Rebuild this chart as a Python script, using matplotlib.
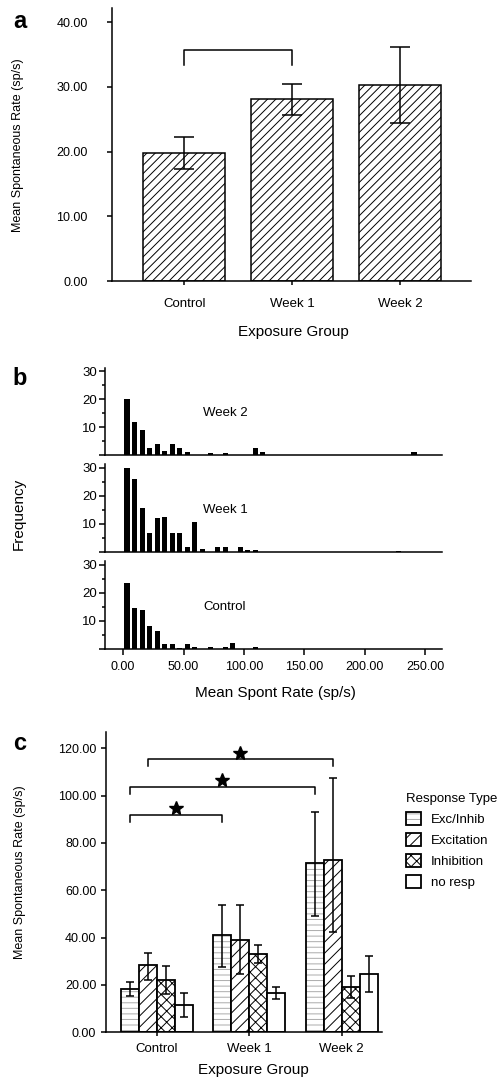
import matplotlib
matplotlib.use('Agg')
import matplotlib.pyplot as plt
import matplotlib.patches as mpatches
from matplotlib.ticker import FormatStrFormatter, MultipleLocator
import numpy as np

plt.rcParams['font.family'] = ['Liberation Sans', 'DejaVu Sans']
plt.rcParams['hatch.linewidth'] = 0.7

# ---- painel a: media por grupo ----
grupos = ['Control', 'Week 1', 'Week 2']
media_a = [19.8, 28.1, 30.3]
erro_a = [2.5, 2.4, 5.9]
chaves_a = [(0, 1, 35.7)]  # (grupo inicial, grupo final, altura)

# ---- painel b: histogramas (bins de 6.25 sp/s) ----
largura_bin = 6.25
bins_week2 = [0, 1, 2, 3, 4, 5, 6, 7, 8, 11, 13, 17, 18, 38]
freq_week2 = [20, 12, 9, 2.5, 4, 1.5, 4, 2.5, 1, 0.8, 0.8, 2.5, 1, 1]
bins_week1 = [0, 1, 2, 3, 4, 5, 6, 7, 8, 9, 10, 12, 13, 15, 16, 17, 36]
freq_week1 = [30, 26, 15.5, 6.5, 12, 12.5, 6.5, 6.5, 1.5, 10.5, 0.8, 1.5, 1.5, 1.5, 0.4, 0.4, 0.3]
bins_control = [0, 1, 2, 3, 4, 5, 6, 7, 8, 9, 11, 13, 14, 17]
freq_control = [23.5, 14.7, 13.7, 8.2, 6.4, 1.6, 1.6, 0.3, 1.6, 0.6, 0.6, 0.6, 2, 0.6]

# ---- painel c: por tipo de resposta ----
tipos = ['Exc/Inhib', 'Excitation', 'Inhibition', 'no resp']
exc_inhib = [18.2, 41.0, 71.4]
exc_inhib_baixo = [3.0, 13.3, 22.3]
exc_inhib_alto = [2.9, 12.8, 21.8]
excitation = [28.3, 39.0, 72.7]
excitation_baixo = [6.2, 14.5, 30.5]
excitation_alto = [5.4, 14.7, 34.9]
inhibition = [22.1, 33.1, 19.2]
inhibition_baixo = [6.0, 3.9, 4.8]
inhibition_alto = [5.9, 3.8, 4.7]
no_resp = [11.5, 16.5, 24.5]
no_resp_baixo = [5.2, 2.6, 7.6]
no_resp_alto = [5.1, 2.5, 7.8]
# (serie, grupo) -> (serie, grupo), altura
chaves_c = [((0, 0), (0, 1), 91.9), ((0, 0), (0, 2), 103.6), ((1, 0), (1, 2), 115.3)]

W, H = 499, 1079
fig = plt.figure(figsize=(W / 100, H / 100), dpi=100)


def caixa(x0, y0, x1, y1):
    return [x0 / W, 1 - y1 / H, (x1 - x0) / W, (y1 - y0) / H]


def limpar(ax):
    ax.spines['top'].set_visible(False)
    ax.spines['right'].set_visible(False)
    ax.spines['left'].set_linewidth(1.1)
    ax.spines['bottom'].set_linewidth(1.1)


# ================= a =================
ax_a = fig.add_axes(caixa(112, 8, 471, 281))
x = np.arange(len(grupos))
ax_a.bar(x, media_a, width=0.76, color='white', edgecolor='black', hatch='////', linewidth=1.1)
ax_a.errorbar(x, media_a, yerr=erro_a, fmt='none', ecolor='black', elinewidth=1.1,
              capsize=7, capthick=1.1)
for g0, g1, h in chaves_a:
    ax_a.plot([g0, g0, g1, g1], [h - 2.3, h, h, h - 2.3], color='black', lw=1.1)
ax_a.set_xlim(-0.67, 2.66)
ax_a.set_ylim(0, 42.2)
ax_a.set_yticks([0, 10, 20, 30, 40])
ax_a.yaxis.set_major_formatter(FormatStrFormatter('%.2f'))
ax_a.set_xticks(x)
ax_a.set_xticklabels(grupos, fontsize=9.5)
ax_a.tick_params(axis='y', length=3.5, width=1.1, labelsize=9, pad=14)
ax_a.tick_params(axis='x', length=3, width=1.1, pad=9)
limpar(ax_a)

# ================= b =================
paineis_b = [
    (bins_week2, freq_week2, 'Week 2', (105.3, 367.5, 442, 455)),
    (bins_week1, freq_week1, 'Week 1', (105.3, 464, 442, 551.5)),
    (bins_control, freq_control, 'Control', (105.3, 561, 442, 648.5)),
]
for bins, freq, nome, pos in paineis_b:
    ax = fig.add_axes(caixa(*pos))
    centros = (np.array(bins) + 0.5) * largura_bin
    ax.bar(centros, freq, width=4.2, color='black', linewidth=0)
    ax.set_xlim(-14.8, 263.8)
    ax.set_ylim(0, 31.4)
    ax.set_yticks([0, 10, 20, 30])
    ax.set_yticklabels(['', '10', '20', '30'])
    ax.yaxis.set_minor_locator(MultipleLocator(5))
    ax.tick_params(axis='y', which='major', length=4, width=1.1, labelsize=9.5, pad=2)
    ax.tick_params(axis='y', which='minor', length=2.5, width=1.1)
    ax.text(66, 15, nome, fontsize=9.5, va='center', ha='left')
    limpar(ax)
    if nome == 'Control':
        ax.set_xticks([0, 50, 100, 150, 200, 250])
        ax.xaxis.set_major_formatter(FormatStrFormatter('%.2f'))
        ax.tick_params(axis='x', length=4, width=1.1, labelsize=9, pad=5)
    else:
        ax.tick_params(axis='x', bottom=False, labelbottom=False)

# ================= c =================
ax_c = fig.add_axes(caixa(106, 731.7, 382.3, 1032.3))
largura = 0.195
series = [
    (exc_inhib, exc_inhib_baixo, exc_inhib_alto, '---', '#ababab'),
    (excitation, excitation_baixo, excitation_alto, '///', 'black'),
    (inhibition, inhibition_baixo, inhibition_alto, 'xxx', 'black'),
    (no_resp, no_resp_baixo, no_resp_alto, '', 'black'),
]
handles = []
for i, (vals, baixo, alto, hatch, cor_hatch) in enumerate(series):
    xs = x + (i - 1.5) * largura
    ax_c.bar(xs, vals, width=largura, color='white', edgecolor=cor_hatch, hatch=hatch, linewidth=0)
    ax_c.bar(xs, vals, width=largura, fill=False, edgecolor='black', linewidth=1.3)
    ax_c.errorbar(xs, vals, yerr=[baixo, alto], fmt='none', ecolor='black', elinewidth=1.1,
                  capsize=2.8, capthick=1.1)
    fundo = mpatches.Patch(facecolor='white', edgecolor=cor_hatch, hatch=hatch, linewidth=0)
    borda = mpatches.Patch(fill=False, edgecolor='black', linewidth=1.3)
    handles.append((fundo, borda))

for (s0, g0), (s1, g1), h in chaves_c:
    x0 = g0 + (s0 - 1.5) * largura
    x1 = g1 + (s1 - 1.5) * largura
    ax_c.plot([x0, x0, x1, x1], [h - 2.9, h, h, h - 2.9], color='black', lw=1.1)
    ax_c.plot((x0 + x1) / 2, h + 2.9, marker='*', ms=10, color='black', mec='black')

ax_c.set_xlim(-0.552, 2.44)
ax_c.set_ylim(0, 127)
ax_c.set_yticks(np.arange(0, 121, 20))
ax_c.yaxis.set_major_formatter(FormatStrFormatter('%.2f'))
ax_c.set_xticks(x)
ax_c.set_xticklabels(grupos, fontsize=9.5)
ax_c.tick_params(axis='y', length=3.5, width=1.1, labelsize=9, pad=3.5)
ax_c.tick_params(axis='x', length=3, width=1.1, pad=5)
limpar(ax_c)

fig.legend(handles, tipos, loc='upper left', bbox_to_anchor=(406 / W, 1 - 793 / H),
           frameon=False, title='Response Type', fontsize=9.5, title_fontsize=9.5,
           alignment='left', borderpad=0, borderaxespad=0, handlelength=1.1,
           handleheight=1.1, handletextpad=0.8, labelspacing=0.55)

# rotulos do eixo e letras dos paineis
fig.text(18 / W, 1 - 145.5 / H, 'Mean Spontaneous Rate (sp/s)', rotation=90,
         ha='center', va='center', fontsize=9)
fig.text(19 / W, 1 - 514 / H, 'Frequency', rotation=90, ha='center', va='center', fontsize=11)
fig.text(20 / W, 1 - 871.7 / H, 'Mean Spontaneous Rate (sp/s)', rotation=90,
         ha='center', va='center', fontsize=9)
fig.text(293 / W, 1 - 331.7 / H, 'Exposure Group', ha='center', va='center', fontsize=11)
fig.text(275 / W, 1 - 693.3 / H, 'Mean Spont Rate (sp/s)', ha='center', va='center', fontsize=11)
fig.text(253 / W, 1 - 1070 / H, 'Exposure Group', ha='center', va='center', fontsize=11)
for letra, ypos in [('a', 22), ('b', 378), ('c', 743)]:
    fig.text(20 / W, 1 - ypos / H, letra, ha='center', va='center', fontsize=17, fontweight='bold')

fig.savefig('out.png', dpi=100)
